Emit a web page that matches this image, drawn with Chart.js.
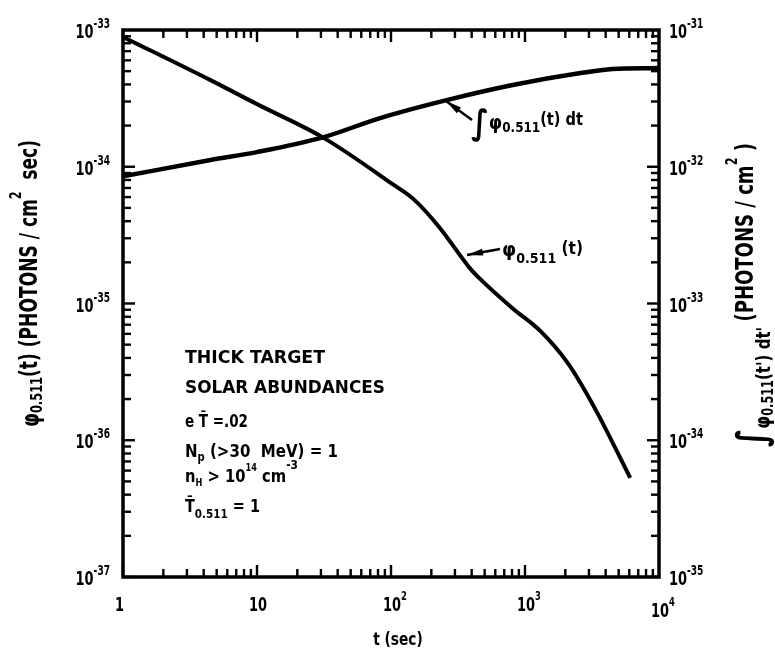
<!DOCTYPE html>
<html>
<head>
<meta charset="utf-8">
<script src="https://cdn.jsdelivr.net/npm/chart.js@4/dist/chart.umd.min.js"></script>
<style>
html,body{margin:0;padding:0;background:#fff;}
canvas{display:block;}
</style>
</head>
<body>
<canvas id="c" width="775" height="662"></canvas>
<script>
// ---- data ----
const phiTimes  = [1, 4.5, 10, 31, 100, 150, 230, 390, 460, 810, 1300, 2100, 3400, 6100];
const phiValues = [8.9e-34, 4.3e-34, 2.87e-34, 1.64e-34, 7.6e-35, 5.7e-35, 3.6e-35, 1.8e-35, 1.52e-35, 9.2e-36, 6.3e-36, 3.63e-36, 1.64e-36, 5.3e-37];
const intTimes  = [1, 4.5, 10, 31, 83, 260, 810, 2600, 4500, 10000];
const intValues = [8.5e-33, 1.12e-32, 1.28e-32, 1.64e-32, 2.27e-32, 3.07e-32, 3.96e-32, 4.84e-32, 5.18e-32, 5.27e-32];

// ---- tick labels (decades) ----
const xDecades = [1, 10, 100, 1000, 10000];
const xTickLabels = [['1',''], ['10',''], ['10','2'], ['10','3'], ['10','4']];
const yLeftDecades = [1e-33, 1e-34, 1e-35, 1e-36, 1e-37];
const yLeftLabels = ['-33', '-34', '-35', '-36', '-37'];
const yRightDecades = [1e-31, 1e-32, 1e-33, 1e-34, 1e-35];
const yRightLabels = ['-31', '-32', '-33', '-34', '-35'];

const COND = '"DejaVu Sans Condensed", "Liberation Sans Narrow", "DejaVu Sans", sans-serif';
const WIDE = '"DejaVu Sans", "Liberation Sans", sans-serif';

function measure(ctx, segs, fam) {
  let w = 0;
  const widths = segs.map(s => { ctx.font = 'bold ' + s.size + 'px ' + (s.fam || fam); const m = ctx.measureText(s.t).width; w += m; return m; });
  return {w, widths};
}
// draw text segments {t,size,dy}; if fitW given, squeeze/stretch horizontally to that width
function drawSegs(ctx, x, y, segs, align, opt) {
  opt = opt || {};
  const fam = opt.fam || COND;
  const {w, widths} = measure(ctx, segs, fam);
  const hs = opt.fitW ? opt.fitW / w : (opt.hs || 1);
  ctx.save();
  ctx.translate(x, y);
  ctx.scale(hs, 1);
  ctx.textBaseline = 'alphabetic';
  ctx.textAlign = 'left';
  let cx = align === 'center' ? -w / 2 : align === 'right' ? -w : 0;
  segs.forEach((s, i) => {
    ctx.font = 'bold ' + s.size + 'px ' + (s.fam || fam);
    ctx.fillText(s.t, cx, s.dy || 0);
    cx += widths[i];
  });
  ctx.restore();
}
function pow10(base, exp, size, esize, edy) {
  const segs = [{t: base, size: size}];
  if (exp) segs.push({t: exp, size: esize, dy: edy});
  return segs;
}

const decor = {
  id: 'decor',
  afterDraw(chart) {
    const ctx = chart.ctx;
    const a = chart.chartArea;
    const xs = chart.scales.x, yl = chart.scales.y, yr = chart.scales.y2;
    ctx.save();
    ctx.fillStyle = '#000';
    ctx.strokeStyle = '#000';
    // frame
    ctx.lineWidth = 3.5;
    ctx.strokeRect(a.left, a.top, a.right - a.left, a.bottom - a.top);
    // ticks (filled bars, pointing inward)
    const TW = 2.4;
    for (let d = 0; d < 4; d++) {
      for (let m = 1; m <= 9; m++) {
        const px = xs.getPixelForValue(m * Math.pow(10, d));
        const L = m === 1 ? 12 : 8;
        ctx.fillRect(px - TW / 2, a.bottom - L, TW, L);
        ctx.fillRect(px - TW / 2, a.top, TW, L);
      }
    }
    for (let d = -37; d < -33; d++) {
      for (let m = 1; m <= 9; m++) {
        const py = yl.getPixelForValue(m * Math.pow(10, d));
        const L = m === 1 ? 12 : 8;
        ctx.fillRect(a.left, py - TW / 2, L, TW);
      }
    }
    for (let d = -35; d < -31; d++) {
      for (let m = 1; m <= 9; m++) {
        const py = yr.getPixelForValue(m * Math.pow(10, d));
        const L = m === 1 ? 12 : 8;
        ctx.fillRect(a.right - L, py - TW / 2, L, TW);
      }
    }
    // x tick labels
    xDecades.forEach((v, i) => {
      const px = xs.getPixelForValue(v);
      const [b, e] = xTickLabels[i];
      const segs = pow10(b, e, 20, 13, -11);
      const off = i === xDecades.length - 1 ? 40 : 34;
      drawSegs(ctx, px - 8, a.bottom + off, segs, 'left', {hs: 0.72});
    });
    // y tick labels
    yLeftDecades.forEach((v, i) => {
      const py = yl.getPixelForValue(v);
      drawSegs(ctx, a.left - 13, py + 8, pow10('10', yLeftLabels[i], 20, 14, -10), 'right', {hs: 0.72});
    });
    yRightDecades.forEach((v, i) => {
      const py = yr.getPixelForValue(v);
      drawSegs(ctx, a.right + 10, py + 8, pow10('10', yRightLabels[i], 20, 14, -10), 'left', {hs: 0.72});
    });
    // x title
    drawSegs(ctx, 398, a.bottom + 68, [{t: 't (sec)', size: 18}], 'center', {hs: 0.85});
    // left title (reads bottom to top)
    ctx.save();
    ctx.translate(37, 427);
    ctx.rotate(-Math.PI / 2);
    drawSegs(ctx, 0, 0, [
      {t: 'φ', size: 25, dy: 2},
      {t: '0.511', size: 16, dy: 5},
      {t: '(t) (PHOTONS / cm', size: 24},
      {t: '2', size: 15, dy: -16},
      {t: '  sec)', size: 24}
    ], 'left', {fitW: 287});
    ctx.restore();
    // right title (reads bottom to top)
    ctx.save();
    ctx.translate(753, 447);
    ctx.rotate(-Math.PI / 2);
    drawSegs(ctx, 0, 0, [
      {t: '∫', size: 40, dy: 12},
      {t: 'φ', size: 22, dy: 17},
      {t: '0.511', size: 15, dy: 20},
      {t: "(t') dt' ", size: 20, dy: 17},
      {t: '(PHOTONS / cm', size: 24},
      {t: '2', size: 15, dy: -16},
      {t: ' )', size: 24}
    ], 'left', {fitW: 304});
    ctx.restore();
    // parameter block
    const bx = 185;
    const W = {fam: WIDE};
    drawSegs(ctx, bx, 363, [{t: 'THICK TARGET', size: 18}], 'left', Object.assign({fitW: 140}, W));
    drawSegs(ctx, bx, 393, [{t: 'SOLAR ABUNDANCES', size: 18}], 'left', Object.assign({fitW: 200}, W));
    drawSegs(ctx, bx, 427, [{t: 'e T̄ =.02', size: 18}], 'left', Object.assign({fitW: 63}, W));
    drawSegs(ctx, bx, 457, [{t: 'N', size: 18}, {t: 'p', size: 12, dy: 4}, {t: ' (>30  MeV) = 1', size: 18}], 'left', Object.assign({fitW: 153}, W));
    drawSegs(ctx, bx, 482, [{t: 'n', size: 18}, {t: 'H', size: 10, dy: 4}, {t: ' > 10', size: 18}, {t: '14', size: 10, dy: -11}, {t: ' cm', size: 18}, {t: '-3', size: 13, dy: -13}], 'left', Object.assign({fitW: 113}, W));
    drawSegs(ctx, bx, 512, [{t: 'T̄', size: 18}, {t: '0.511', size: 13, dy: 6}, {t: ' = 1', size: 18}], 'left', Object.assign({fitW: 75}, W));
    // curve annotations
    drawSegs(ctx, 471, 132, [
      {t: '∫', size: 34, dy: 2},
      {t: 'φ', size: 20, dy: -3},
      {t: '0.511', size: 14, dy: 0},
      {t: '(t) dt', size: 17, dy: -7}
    ], 'left', {fitW: 112});
    drawSegs(ctx, 502, 256, [
      {t: 'φ', size: 20},
      {t: '0.511', size: 14, dy: 7},
      {t: ' (t)', size: 17, dy: -2}
    ], 'left', {fitW: 81});
    // arrows (tapered wedge toward the curve)
    const arrow = (tx, ty, fx, fy) => {
      ctx.lineWidth = 2.5;
      ctx.beginPath(); ctx.moveTo(fx, fy); ctx.lineTo(tx, ty); ctx.stroke();
      const ang = Math.atan2(ty - fy, tx - fx);
      const hl = 16, hw = 3.5;
      ctx.beginPath();
      ctx.moveTo(tx, ty);
      ctx.lineTo(tx - hl * Math.cos(ang) + hw * Math.sin(ang), ty - hl * Math.sin(ang) - hw * Math.cos(ang));
      ctx.lineTo(tx - hl * Math.cos(ang) - hw * Math.sin(ang), ty - hl * Math.sin(ang) + hw * Math.cos(ang));
      ctx.closePath(); ctx.fill();
    };
    arrow(446, 101, 472, 120);
    arrow(467, 255, 500, 249);
    ctx.restore();
  }
};

const toPts = (xs, ys) => xs.map((x, i) => ({x: x, y: ys[i]}));

new Chart(document.getElementById('c'), {
  type: 'scatter',
  data: {
    datasets: [
      {label: 'phi', data: toPts(phiTimes, phiValues), yAxisID: 'y', showLine: true,
       borderColor: '#000', borderWidth: 4, pointRadius: 0, cubicInterpolationMode: 'monotone'},
      {label: 'integral', data: toPts(intTimes, intValues), yAxisID: 'y2', showLine: true,
       borderColor: '#000', borderWidth: 4.5, pointRadius: 0, cubicInterpolationMode: 'monotone'}
    ]
  },
  options: {
    responsive: false,
    animation: false,
    devicePixelRatio: 1,
    layout: {padding: {left: 123, right: 116, top: 30, bottom: 85}},
    plugins: {legend: {display: false}, tooltip: {enabled: false}},
    scales: {
      x: {type: 'logarithmic', min: 1, max: 10000, ticks: {display: false}, grid: {display: false}, border: {display: false}, afterFit(s) { s.height = 0; }},
      y: {type: 'logarithmic', position: 'left', min: 1e-37, max: 1e-33, ticks: {display: false}, grid: {display: false}, border: {display: false}, afterFit(s) { s.width = 0; }},
      y2: {type: 'logarithmic', position: 'right', min: 1e-35, max: 1e-31, ticks: {display: false}, grid: {display: false}, border: {display: false}, afterFit(s) { s.width = 0; }}
    }
  },
  plugins: [decor]
});
</script>
</body>
</html>
